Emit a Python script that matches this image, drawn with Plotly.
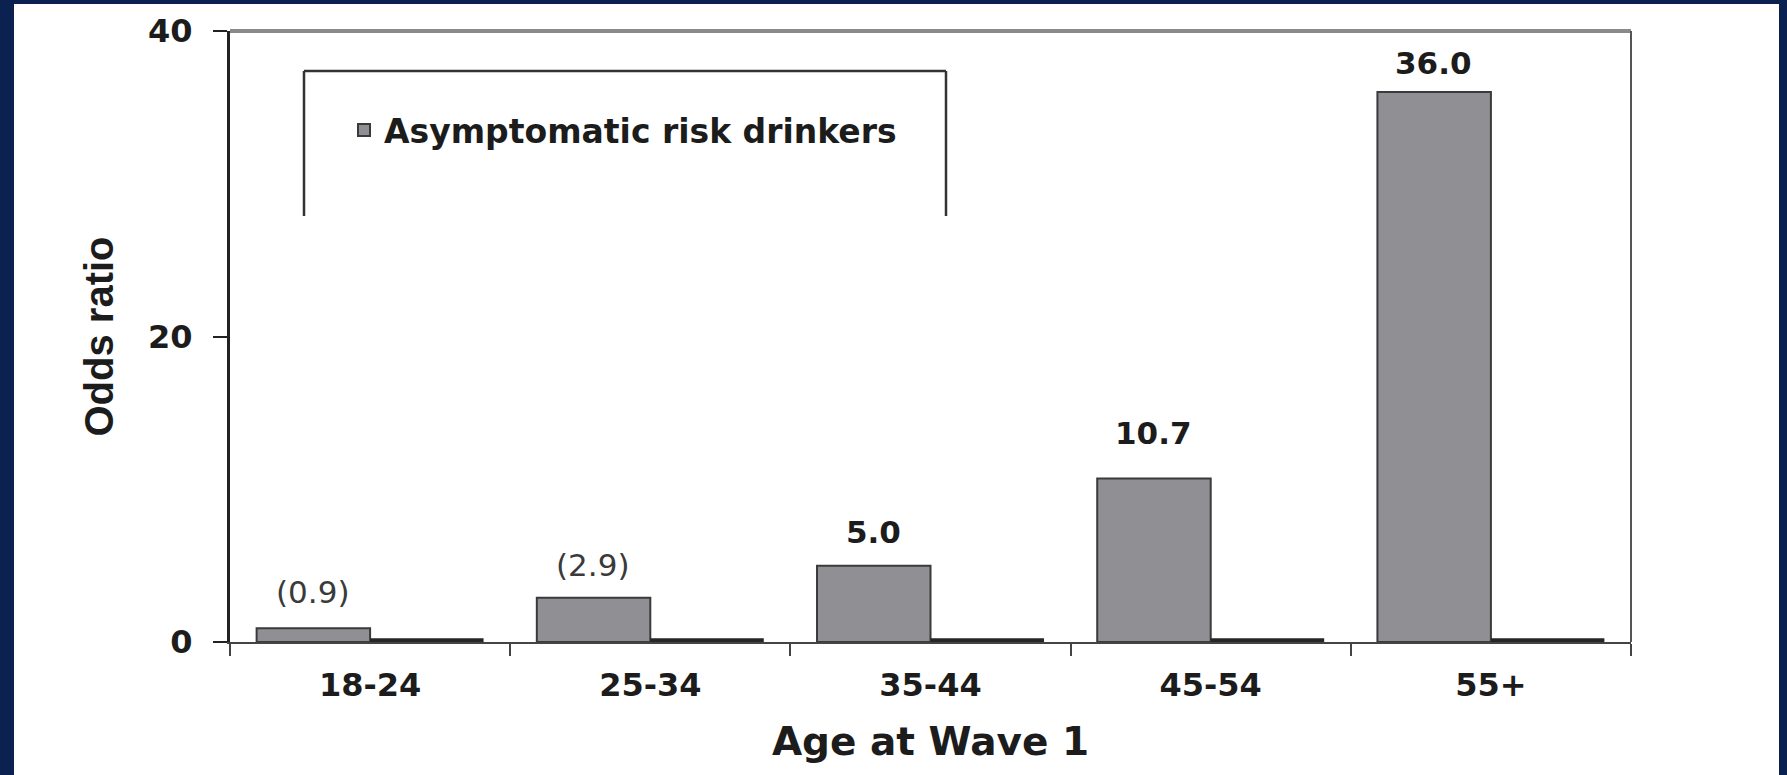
import plotly.graph_objects as go

# ---- data ----
age_groups = ["18-24", "25-34", "35-44", "45-54", "55+"]
odds_ratio = [0.9, 2.9, 5.0, 10.7, 36.0]
significant = [False, False, True, True, True]
comparison = [0.25, 0.25, 0.25, 0.25, 0.25]
y_ticks = [0, 20, 40]

# ---- geometry / style ----
W, H = 1787, 775
L, R, T, B = 230, 156, 31, 133
PW = W - L - R
PH = H - T - B


def px(x):
    return (x - L) / PW


def py(y):
    return (H - B - y) / PH


NAVY = "#0b2150"
TXT = "#1c1c1c"
FONT = "DejaVu Sans"

fig = go.Figure()
fig.add_bar(
    x=age_groups, y=odds_ratio, name="Asymptomatic risk drinkers",
    marker=dict(color="#909094", line=dict(color="#3a3a3a", width=2)),
    showlegend=True,
)
fig.add_bar(
    x=age_groups, y=comparison, name="comparison",
    marker=dict(color="#262626", line=dict(width=0)),
    showlegend=False,
)

label_shift = [36, 33, 34, 46, 29]
for cat, v, sig, dy in zip(age_groups, odds_ratio, significant, label_shift):
    txt = f"{v:.1f}" if sig else f"({v:.1f})"
    fig.add_annotation(
        x=cat, y=v, xref="x", yref="y", text=txt, showarrow=False,
        xshift=-57, yshift=dy, yanchor="middle", xanchor="center",
        font=dict(family=FONT, size=31, color=TXT if sig else "#3a3a3a",
                  weight="bold" if sig else "normal"),
    )

shapes = [
    # white page inside navy frame
    dict(type="rect", xref="paper", yref="paper", x0=px(14), x1=px(1779),
         y0=py(800), y1=py(4), fillcolor="white", line=dict(width=0), layer="below"),
    # legend frame (open at bottom)
    dict(type="line", xref="paper", yref="paper", x0=px(304), x1=px(946),
         y0=py(71), y1=py(71), line=dict(color="#333", width=2.5)),
    dict(type="line", xref="paper", yref="paper", x0=px(304), x1=px(304),
         y0=py(71), y1=py(216), line=dict(color="#333", width=2.5)),
    dict(type="line", xref="paper", yref="paper", x0=px(946), x1=px(946),
         y0=py(71), y1=py(216), line=dict(color="#333", width=2.5)),
    # top and right frame of plot
    dict(type="line", xref="paper", yref="paper", x0=0, x1=1, y0=1, y1=1,
         line=dict(color="#8a8a8a", width=4)),
    dict(type="line", xref="paper", yref="paper", x0=1, x1=1, y0=0, y1=1,
         line=dict(color="#555", width=2)),
]

fig.update_layout(
    width=W, height=H,
    margin=dict(l=L, r=R, t=T, b=B, autoexpand=False),
    paper_bgcolor=NAVY, plot_bgcolor="white",
    barmode="group", bargap=0.19, bargroupgap=0,
    legend=dict(x=px(344), y=py(130), xanchor="left", yanchor="middle",
                bgcolor="rgba(0,0,0,0)", borderwidth=0,
                font=dict(family=FONT, size=33, color=TXT, weight="bold")),
    shapes=shapes,
)

fig.update_xaxes(
    type="category", showline=True, linecolor="#444", linewidth=2,
    ticks="outside", tickson="boundaries", ticklen=12, tickwidth=2, tickcolor="#444",
    tickfont=dict(family=FONT, size=32, color=TXT, weight="bold"),
    ticklabelstandoff=14,
    title=dict(text="Age at Wave 1", standoff=24,
               font=dict(family=FONT, size=39, color=TXT, weight="bold")),
    showgrid=False, zeroline=False,
)
fig.update_yaxes(
    range=[0, 40], tickvals=y_ticks, showline=True, linecolor="#222", linewidth=3,
    ticks="outside", ticklen=14, tickwidth=2, tickcolor="#222",
    tickfont=dict(family=FONT, size=32, color=TXT, weight="bold"),
    ticklabelstandoff=14,
    title=dict(text="Odds ratio", standoff=23,
               font=dict(family="Liberation Sans", size=40, color=TXT, weight="bold")),
    showgrid=False, zeroline=False,
)

fig.write_html("out.html", config={"displayModeBar": False},
               post_script="document.body.style.margin='0';document.body.style.overflow='hidden';")
